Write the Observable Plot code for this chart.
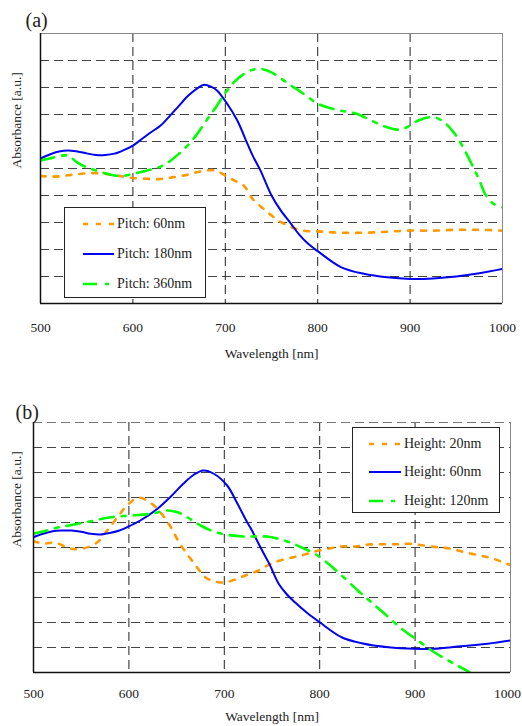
<!DOCTYPE html>
<html><head><meta charset="utf-8">
<script src="https://cdn.jsdelivr.net/npm/d3@7"></script>
<script src="https://cdn.jsdelivr.net/npm/@observablehq/plot@0.6"></script>
<style>
body{margin:0;background:#fff;}
#wrap{position:relative;width:522px;height:726px;font-family:'Liberation Serif','DejaVu Serif',serif;color:#222;}
.panel{position:absolute;left:0;}
.legend{position:absolute;background:#fff;border:1px solid #222;box-sizing:border-box;}
.legend .row{position:absolute;left:0;height:20px;display:flex;align-items:center;font-size:14px;color:#222;white-space:nowrap;font-family:'Liberation Serif','DejaVu Serif',serif;}
.legend svg{display:block;}
</style></head><body><div id="wrap"></div>
<script>
// ---- data (wavelength nm, absorbance a.u.) ----
const xTicks = [500, 600, 700, 800, 900, 1000];
const xGrid = [600, 700, 800, 900];
const yGrid = [1, 2, 3, 4, 5, 6, 7, 8, 9];

const pitch60 = [[500,4.72],[510,4.7],[520,4.71],[530,4.75],[540,4.79],[550,4.82],[560,4.83],[570,4.8],[580,4.75],[590,4.7],[600,4.65],[615,4.62],[630,4.61],[644,4.68],[659,4.77],[673,4.89],[688,4.93],[702,4.7],[710,4.55],[720,4.37],[730,3.85],[740,3.55],[750,3.26],[760,3.02],[770,2.85],[780,2.73],[790,2.68],[800,2.67],[825,2.62],[850,2.62],[875,2.66],[900,2.7],[925,2.7],[950,2.73],[975,2.73],[1000,2.7]];
const pitch180 = [[500,5.37],[510,5.52],[520,5.63],[530,5.67],[540,5.63],[550,5.56],[560,5.5],[570,5.5],[580,5.55],[590,5.68],[600,5.85],[610,6.1],[620,6.35],[630,6.59],[640,6.95],[650,7.33],[660,7.7],[670,7.98],[677,8.1],[685,8.02],[691,7.89],[702,7.4],[713,6.78],[724,5.91],[730,5.45],[738,4.93],[750,4.0],[760,3.45],[771,2.96],[780,2.55],[790,2.2],[800,1.94],[825,1.35],[850,1.1],[875,0.97],[900,0.91],[925,0.93],[950,1.0],[975,1.12],[1000,1.28]];
const pitch360 = [[500,5.3],[510,5.37],[520,5.46],[530,5.47],[540,5.22],[550,5.04],[560,4.93],[570,4.82],[580,4.74],[590,4.73],[600,4.8],[610,4.88],[620,4.97],[630,5.07],[640,5.27],[650,5.55],[660,5.88],[670,6.3],[680,6.8],[690,7.28],[700,7.8],[710,8.22],[720,8.5],[730,8.66],[740,8.68],[750,8.56],[760,8.34],[770,8.1],[780,7.88],[790,7.63],[800,7.4],[815,7.22],[830,7.11],[842,7.03],[856,6.81],[872,6.56],[886,6.44],[896,6.52],[909,6.78],[925,6.9],[937,6.71],[948,6.3],[955,5.93],[963,5.41],[970,4.93],[975,4.56],[981,4.07],[990,3.7],[1000,3.56]];

const height20 = [[500,5.25],[511,5.16],[523,5.19],[539,4.95],[553,4.97],[567,5.21],[578,5.72],[588,6.21],[598,6.68],[610,6.99],[624,6.75],[635,6.31],[644,5.81],[652,5.24],[660,4.79],[670,4.28],[680,3.81],[694,3.61],[706,3.65],[722,3.88],[736,4.08],[749,4.35],[765,4.55],[781,4.68],[795,4.84],[809,4.95],[823,5.04],[838,5.04],[852,5.12],[880,5.13],[894,5.15],[909,5.08],[924,5.01],[938,4.95],[952,4.81],[968,4.68],[982,4.55],[996,4.35],[1000,4.3]];
const height60 = [[500,5.41],[510,5.55],[520,5.65],[530,5.68],[540,5.68],[550,5.63],[560,5.55],[570,5.52],[581,5.59],[590,5.68],[598,5.81],[612,6.08],[630,6.55],[644,7.04],[657,7.55],[668,7.91],[678,8.08],[689,7.95],[703,7.48],[713,6.81],[724,6.01],[728,5.75],[738,5.0],[747,4.36],[757,3.55],[765,3.15],[774,2.81],[787,2.38],[800,2.01],[823,1.41],[844,1.17],[872,1.01],[900,0.95],[920,0.95],[948,1.05],[976,1.15],[1000,1.28]];
const height120 = [[500,5.55],[514,5.68],[526,5.81],[540,5.9],[560,6.05],[581,6.21],[602,6.28],[623,6.35],[640,6.48],[651,6.41],[663,6.17],[675,5.88],[689,5.64],[703,5.51],[720,5.44],[744,5.44],[760,5.32],[772,5.15],[784,4.95],[795,4.75],[809,4.35],[823,3.88],[840,3.28],[852,2.88],[868,2.35],[886,1.75],[903,1.28],[920,0.81],[938,0.41],[957,0.01],[965,-0.2]];

const seriesA = [
  {label:"Pitch: 60nm", data:pitch60, style:"orange"},
  {label:"Pitch: 180nm", data:pitch180, style:"blue"},
  {label:"Pitch: 360nm", data:pitch360, style:"green"}
];
const seriesB = [
  {label:"Height: 20nm", data:height20, style:"orange"},
  {label:"Height: 60nm", data:height60, style:"blue"},
  {label:"Height: 120nm", data:height120, style:"green"}
];

const styles = {
  orange:{stroke:"#ff9900", strokeWidth:2.6, strokeDasharray:"5,8"},
  blue:{stroke:"#0000f0", strokeWidth:2},
  green:{stroke:"#00ff00", strokeWidth:2.6, strokeDasharray:"14,8,4,8"}
};

const FONT = "'Liberation Serif','DejaVu Serif',serif";
const wrap = document.getElementById("wrap");

function panel(o) {
  const marks = [
    Plot.ruleY(yGrid, {stroke:"#444", strokeDasharray:"9,5"}),
    Plot.ruleX(xGrid, {stroke:"#222", strokeDasharray:"9,5"}),
    ...o.series.map(s => Plot.line(s.data, {x:d=>d[0], y:d=>d[1], curve:"catmull-rom", clip:true, ...styles[s.style]})),
    Plot.ruleX([1000], {stroke:"#888"}),
    o.topDashed ? Plot.ruleY([10], {stroke:"#777", strokeDasharray:"9,5"}) : Plot.ruleY([10], {stroke:"#888"}),
    Plot.ruleX([500], {stroke:"#111", strokeWidth:1.5}),
    Plot.ruleY([0], {stroke:"#111", strokeWidth:1.5}),
    Plot.axisX(xTicks.slice(0, -1), {tickSize:0, tickPadding:o.tickPad, label:null, tickFormat:d=>String(d), fontSize:13.5, fill:"#222"}),
    Plot.axisX(xTicks.slice(-1), {tickSize:0, tickPadding:o.tickPad, label:null, tickFormat:d=>String(d), fontSize:13.5, fill:"#222", dx:o.lastDx}),
    Plot.axisY({ticks:[], tickSize:0, label:null}),
    Plot.text(["Wavelength [nm]"], {text:d=>d, frameAnchor:"bottom", dy:o.labelOff, lineAnchor:"middle", fontSize:13.5, fill:"#222"}),
    Plot.text(["Absorbance [a.u.]"], {text:d=>d, frameAnchor:"left", dx:o.yLabelDx, rotate:-90, lineAnchor:"middle", fontSize:13.5, fill:"#222"}),
    Plot.text([o.tag], {text:d=>d, frameAnchor:"top-left", dx:o.tagDx, dy:o.tagDy, textAnchor:"start", lineAnchor:"middle", fontSize:20, fill:"#222"})
  ];
  const chart = Plot.plot({
    width:522, height:o.height,
    marginLeft:o.ml, marginRight:o.mr, marginTop:o.mt, marginBottom:o.mb,
    x:{domain:[500,1000]}, y:{domain:[0,10]},
    style:{fontFamily:FONT, background:"transparent", overflow:"visible"},
    marks
  });
  chart.classList.add("panel");
  chart.style.top = o.top + "px";
  chart.style.fontFamily = FONT;
  wrap.appendChild(chart);

  const lg = document.createElement("div");
  lg.className = "legend";
  Object.assign(lg.style, {left:o.lg.x+"px", top:o.lg.y+"px", width:o.lg.w+"px", height:o.lg.h+"px"});
  o.series.forEach((s, i) => {
    const row = document.createElement("div");
    row.className = "row";
    row.style.top = (o.lg.rows[i] - 10) + "px";
    row.style.left = o.lg.sx + "px";
    const st = styles[s.style];
    row.innerHTML = `<svg width="${o.lg.sw}" height="10"><line x1="0" y1="5" x2="${o.lg.sw}" y2="5" stroke="${st.stroke}" stroke-width="${st.strokeWidth}" ${st.strokeDasharray ? `stroke-dasharray="${st.strokeDasharray}"` : ""}/></svg><span style="margin-left:3px">${s.label}</span>`;
    lg.appendChild(row);
  });
  wrap.appendChild(lg);
}

panel({series:seriesA, top:0, height:370, ml:40, mr:20, mt:33, mb:67, tickPad:19, labelOff:50, yLabelDx:-24, lastDx:0,
  tag:"(a)", tagDx:-15, tagDy:-13, topDashed:false,
  lg:{x:64, y:207, w:142, h:91, rows:[16,46,76], sx:18, sw:31}});
panel({series:seriesB, top:370, height:356, ml:33, mr:12, mt:52, mb:54, tickPad:16, labelOff:44, yLabelDx:-17, lastDx:-3,
  tag:"(b)", tagDx:-18, tagDy:-10, topDashed:true,
  lg:{x:352, y:427, w:148, h:86, rows:[16,44,73], sx:16, sw:32}});
</script></body></html>
